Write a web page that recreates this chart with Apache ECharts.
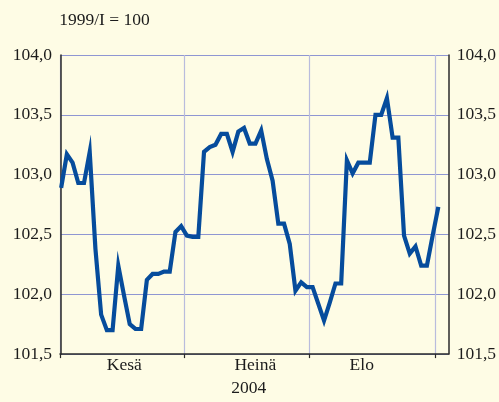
<!DOCTYPE html>
<html>
<head>
<meta charset="utf-8">
<script src="https://cdn.jsdelivr.net/npm/echarts@6/dist/echarts.min.js"></script>
<style>
  html, body { margin: 0; padding: 0; background: #fefce5; }
  #chart { width: 499px; height: 402px; }
</style>
</head>
<body>
<div id="chart"></div>
<script>
// Daily index values (business days, June 1 – September 1, 2004), 1999/I = 100
const indexValues = [
  102.89, 103.17, 103.10, 102.93, 102.93, 103.19, 102.38, 101.83, 101.70, 101.70,
  102.24, 101.99, 101.75, 101.71, 101.71, 102.12, 102.17, 102.17, 102.19, 102.19,
  102.52, 102.57, 102.49, 102.48, 102.48, 103.19, 103.23, 103.25, 103.34, 103.34,
  103.19, 103.36, 103.39, 103.26, 103.26, 103.37, 103.13, 102.95, 102.59, 102.59,
  102.42, 102.03, 102.10, 102.06, 102.06, 101.92, 101.78, 101.93, 102.09, 102.09,
  103.12, 103.01, 103.10, 103.10, 103.10, 103.50, 103.50, 103.64, 103.31, 103.31,
  102.49, 102.34, 102.40, 102.24, 102.24, 102.49, 102.73
];

// Month names and where their labels sit on the day-index axis
const monthNames = ['Kesä', 'Heinä', 'Elo'];
const monthLabelAt = [11.05, 33.98, 52.6];
// Month boundaries on the day-index axis
const monthBounds = [-0.2, 21.5, 43.5, 65.5];

const yearLabel = '2004';
const baseLabel = '1999/I = 100';
const yMin = 101.5, yMax = 104.0, yStep = 0.5;

const FONT = '"Liberation Serif", "DejaVu Serif", serif';
const TEXT = '#1c1c1c';
const AXIS = '#2a2a2a';

const fmtComma = v => v.toFixed(1).replace('.', ',');

const chart = echarts.init(document.getElementById('chart'), null, { renderer: 'canvas' });

const yAxisBase = {
  type: 'value',
  min: yMin,
  max: yMax,
  interval: yStep,
  axisLine: { show: true, lineStyle: { color: AXIS, width: 1.5 } },
  axisTick: { show: false },
  axisLabel: {
    formatter: fmtComma,
    color: TEXT,
    fontFamily: FONT,
    fontSize: 17.5,
    margin: 8
  }
};

chart.setOption({
  backgroundColor: '#fefce5',
  animation: false,
  grid: { left: 60, right: 49, top: 55, bottom: 40, containLabel: false },
  xAxis: {
    type: 'value',
    min: -0.2,
    max: 67.8,
    axisLine: { show: true, onZero: false, lineStyle: { color: AXIS, width: 1.5 } },
    axisTick: {
      show: true,
      customValues: monthBounds,
      length: 4,
      lineStyle: { color: AXIS, width: 1.2 }
    },
    axisLabel: {
      customValues: monthLabelAt,
      formatter: v => {
        let best = 0;
        monthLabelAt.forEach((p, i) => {
          if (Math.abs(p - v) < Math.abs(monthLabelAt[best] - v)) best = i;
        });
        return monthNames[best];
      },
      color: TEXT,
      fontFamily: FONT,
      fontSize: 17.5,
      margin: 2
    },
    splitLine: { show: true, lineStyle: { color: '#b9bcdd', width: 1.2 } },
    name: yearLabel,
    nameLocation: 'middle',
    nameGap: 23,
    nameTextStyle: {
      color: TEXT,
      fontFamily: FONT,
      fontSize: 17.5,
      padding: [0, 11, 0, 0]
    }
  },
  yAxis: [
    Object.assign({}, yAxisBase, {
      position: 'left',
      splitLine: { show: true, lineStyle: { color: '#8f96d2', width: 1.2 } },
      name: baseLabel,
      nameLocation: 'end',
      nameGap: 26,
      nameTextStyle: {
        color: TEXT,
        fontFamily: FONT,
        fontSize: 17.5,
        align: 'left',
        verticalAlign: 'bottom',
        padding: [0, 0, 0, -2]
      }
    }),
    Object.assign({}, yAxisBase, {
      position: 'right',
      splitLine: { show: false }
    })
  ],
  series: [{
    type: 'line',
    yAxisIndex: 0,
    data: indexValues.map((v, i) => [i, v]),
    showSymbol: false,
    symbol: 'none',
    lineStyle: { color: '#064c9c', width: 4.2, join: 'miter', cap: 'butt' },
    z: 3
  }]
});
</script>
</body>
</html>
